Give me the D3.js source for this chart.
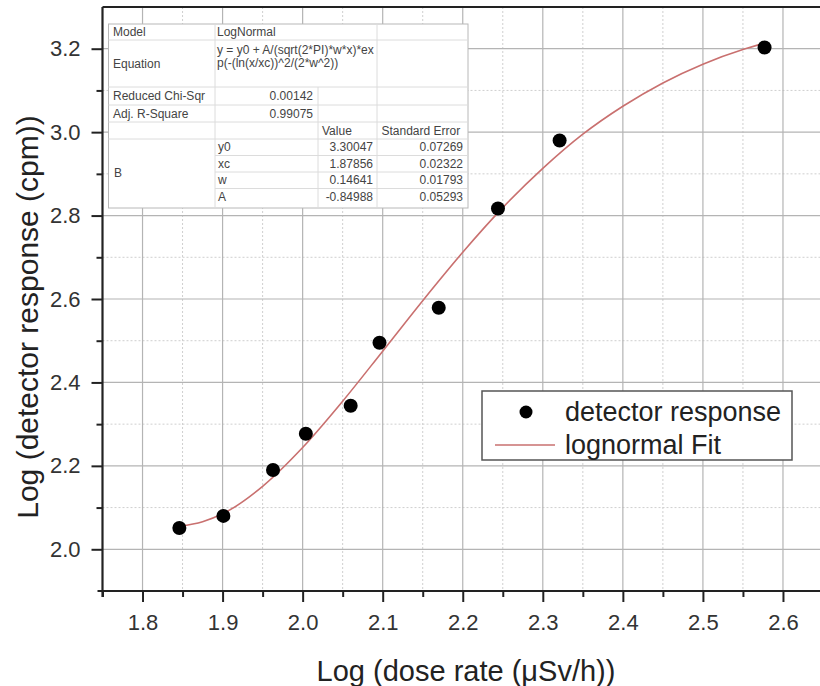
<!DOCTYPE html>
<html>
<head>
<meta charset="utf-8">
<script src="https://cdn.jsdelivr.net/npm/d3@7"></script>
<style>
  html, body { margin: 0; padding: 0; background: #fff; }
  svg { display: block; font-family: "Liberation Sans", Arial, sans-serif; }
</style>
</head>
<body>
<svg id="chart" width="820" height="686"></svg>
<script>
// ---------- data ----------
const doseRate = [1.846, 1.901, 1.963, 2.004, 2.060, 2.096, 2.170, 2.244, 2.321, 2.577];
const response = [2.051, 2.080, 2.190, 2.277, 2.344, 2.495, 2.579, 2.817, 2.980, 3.203];

const fitX = [1.846, 1.875, 1.90, 1.95, 2.00, 2.05, 2.10, 2.15, 2.20, 2.25, 2.30, 2.35, 2.40, 2.45, 2.50, 2.55, 2.577];
const fitY = [2.055, 2.066, 2.085, 2.151, 2.244, 2.355, 2.475, 2.596, 2.712, 2.819, 2.913, 2.995, 3.062, 3.118, 3.163, 3.198, 3.213];

const xTickLabels = ["1.8", "1.9", "2.0", "2.1", "2.2", "2.3", "2.4", "2.5", "2.6"];
const yTickLabels = ["2.0", "2.2", "2.4", "2.6", "2.8", "3.0", "3.2"];
const xMinorTicks = [1.75, 1.85, 1.95, 2.05, 2.15, 2.25, 2.35, 2.45, 2.55, 2.65];
const yMinorTicks = [2.1, 2.3, 2.5, 2.7, 2.9, 3.1];

const xTitle = "Log (dose rate (\u03BCSv/h))";
const yTitle = "Log (detector response (cpm))";
const legendLabels = ["detector response", "lognormal Fit"];

const tableModel = ["Model", "LogNormal"];
const tableEquation = ["Equation", "y = y0 + A/(sqrt(2*PI)*w*x)*ex", "p(-(ln(x/xc))^2/(2*w^2))"];
const tableStats = [["Reduced Chi-Sqr", "0.00142"], ["Adj. R-Square", "0.99075"]];
const tableHeader = ["Value", "Standard Error"];
const paramGroup = "B";
const paramNames = ["y0", "xc", "w", "A"];
const paramValues = ["3.30047", "1.87856", "0.14641", "-0.84988"];
const paramErrors = ["0.07269", "0.02322", "0.01793", "0.05293"];

// ---------- layout ----------
const svg = d3.select("#chart");
const L = 102.5, R = 823, T = 7, B = 591;
const x = d3.scaleLinear().domain([1.75, 2.65]).range([L, R]);
const y = d3.scaleLinear().domain([1.9, 3.3]).range([B, T]);
const font = "'Liberation Sans', Arial, sans-serif";

// grid
const grid = svg.append("g");
grid.selectAll(".vminor").data(xMinorTicks).enter().append("line")
  .attr("x1", d => x(d)).attr("x2", d => x(d)).attr("y1", T).attr("y2", B)
  .attr("stroke", "#cfcfcf").attr("stroke-width", 1).attr("stroke-dasharray", "2,2");
grid.selectAll(".hminor").data(yMinorTicks).enter().append("line")
  .attr("x1", L).attr("x2", R).attr("y1", d => y(d)).attr("y2", d => y(d))
  .attr("stroke", "#cfcfcf").attr("stroke-width", 1).attr("stroke-dasharray", "2,2");
grid.selectAll(".vmajor").data(xTickLabels).enter().append("line")
  .attr("x1", d => x(+d)).attr("x2", d => x(+d)).attr("y1", T).attr("y2", B)
  .attr("stroke", "#b4b4b4").attr("stroke-width", 1.2);
grid.selectAll(".hmajor").data(yTickLabels).enter().append("line")
  .attr("x1", L).attr("x2", R).attr("y1", d => y(+d)).attr("y2", d => y(+d))
  .attr("stroke", "#b4b4b4").attr("stroke-width", 1.2);

// fit curve
const line = d3.line().x(d => x(d[0])).y(d => y(d[1])).curve(d3.curveMonotoneX);
svg.append("path").datum(fitX.map((v, i) => [v, fitY[i]]))
  .attr("d", line).attr("fill", "none").attr("stroke", "#c9706f").attr("stroke-width", 1.6);

// points
svg.selectAll(".pt").data(doseRate.map((v, i) => [v, response[i]])).enter().append("circle")
  .attr("cx", d => x(d[0])).attr("cy", d => y(d[1])).attr("r", 7).attr("fill", "#000");

// axes
const xAxis = d3.axisBottom(x).tickValues(xTickLabels.map(Number))
  .tickFormat((d, i) => xTickLabels[i]).tickSize(11).tickPadding(12);
const gx = svg.append("g").attr("transform", `translate(0,${B})`).call(xAxis);
gx.select(".domain").remove();
gx.selectAll(".tick line").attr("stroke", "#222").attr("stroke-width", 2);
gx.selectAll(".tick text").attr("font-size", 22).attr("font-family", font).attr("fill", "#333");
const gxm = svg.append("g").attr("transform", `translate(0,${B})`)
  .call(d3.axisBottom(x).tickValues(xMinorTicks).tickFormat("").tickSize(6));
gxm.select(".domain").remove();
gxm.selectAll(".tick line").attr("stroke", "#222").attr("stroke-width", 2);

const yAxis = d3.axisLeft(y).tickValues(yTickLabels.map(Number))
  .tickFormat((d, i) => yTickLabels[i]).tickSize(11).tickPadding(11);
const gy = svg.append("g").attr("transform", `translate(${L},0)`).call(yAxis);
gy.select(".domain").remove();
gy.selectAll(".tick line").attr("stroke", "#222").attr("stroke-width", 2);
gy.selectAll(".tick text").attr("font-size", 22).attr("font-family", font).attr("fill", "#333");
const gym = svg.append("g").attr("transform", `translate(${L},0)`)
  .call(d3.axisLeft(y).tickValues(yMinorTicks).tickFormat("").tickSize(6));
gym.select(".domain").remove();
gym.selectAll(".tick line").attr("stroke", "#222").attr("stroke-width", 2);

// frame lines
svg.append("line").attr("x1", L - 5).attr("x2", R).attr("y1", B).attr("y2", B).attr("stroke", "#222").attr("stroke-width", 2.2);
svg.append("line").attr("x1", L).attr("x2", L).attr("y1", T).attr("y2", B + 6).attr("stroke", "#222").attr("stroke-width", 2.2);
svg.append("line").attr("x1", L).attr("x2", R).attr("y1", T).attr("y2", T).attr("stroke", "#222").attr("stroke-width", 2.2);

// titles
svg.append("text").attr("x", 466).attr("y", 681).attr("text-anchor", "middle")
  .attr("font-size", 29).attr("fill", "#222").text(xTitle);
svg.append("text").attr("transform", "translate(38,317) rotate(-90)").attr("text-anchor", "middle")
  .attr("font-size", 30).attr("fill", "#222").text(yTitle);

// ---------- fit table ----------
const tb = svg.append("g").attr("font-size", 12).attr("fill", "#444");
const tL = 108.5, tR = 468, tT = 24, tB = 208;
const c1 = 215, c2 = 318, c3 = 377;
const rows = [24, 40, 87, 105, 122, 139, 155.5, 172, 188.5, 208];
tb.append("rect").attr("x", tL).attr("y", tT).attr("width", tR - tL).attr("height", tB - tT)
  .attr("fill", "#fff").attr("stroke", "#b8b8b8").attr("stroke-width", 1);
const hl = (x1, x2, yy) => tb.append("line").attr("x1", x1).attr("x2", x2).attr("y1", yy).attr("y2", yy).attr("stroke", "#dcdcdc");
const vl = (xx, y1, y2) => tb.append("line").attr("x1", xx).attr("x2", xx).attr("y1", y1).attr("y2", y2).attr("stroke", "#dcdcdc");
[1, 2, 3, 4, 5].forEach(i => hl(tL, tR, rows[i]));
[6, 7, 8].forEach(i => hl(c1, tR, rows[i]));
vl(c1, tT, tB); vl(c3, tT, tB); vl(c2, rows[2], tB);
const txt = (s, xx, yy, anchor) => tb.append("text").attr("x", xx).attr("y", yy).attr("dy", "0.35em")
  .attr("text-anchor", anchor || "start").text(s);
txt(tableModel[0], 113, 32); txt(tableModel[1], 217, 32);
txt(tableEquation[0], 113, 64); txt(tableEquation[1], 217, 50); txt(tableEquation[2], 217, 63);
txt(tableStats[0][0], 113, 96); txt(tableStats[0][1], 313, 96, "end");
txt(tableStats[1][0], 113, 113.5); txt(tableStats[1][1], 313, 113.5, "end");
txt(tableHeader[0], 322, 130.5); txt(tableHeader[1], 381.5, 130.5);
txt(paramGroup, 114, 173);
const pY = [147, 163.7, 180.2, 197];
paramNames.forEach((n, i) => {
  txt(n, 218, pY[i]);
  txt(paramValues[i], 373, pY[i], "end");
  txt(paramErrors[i], 463, pY[i], "end");
});

// ---------- legend ----------
const lg = svg.append("g");
lg.append("rect").attr("x", 482).attr("y", 391).attr("width", 310).attr("height", 69)
  .attr("fill", "#fff").attr("stroke", "#555").attr("stroke-width", 1.5);
lg.append("circle").attr("cx", 526).attr("cy", 412).attr("r", 6.5).attr("fill", "#000");
lg.append("line").attr("x1", 495).attr("x2", 555).attr("y1", 445).attr("y2", 445)
  .attr("stroke", "#c9706f").attr("stroke-width", 1.6);
lg.append("text").attr("x", 565).attr("y", 412).attr("dy", "0.35em").attr("font-size", 27).attr("fill", "#222").text(legendLabels[0]);
lg.append("text").attr("x", 565).attr("y", 445).attr("dy", "0.35em").attr("font-size", 27).attr("fill", "#222").text(legendLabels[1]);
</script>
</body>
</html>
